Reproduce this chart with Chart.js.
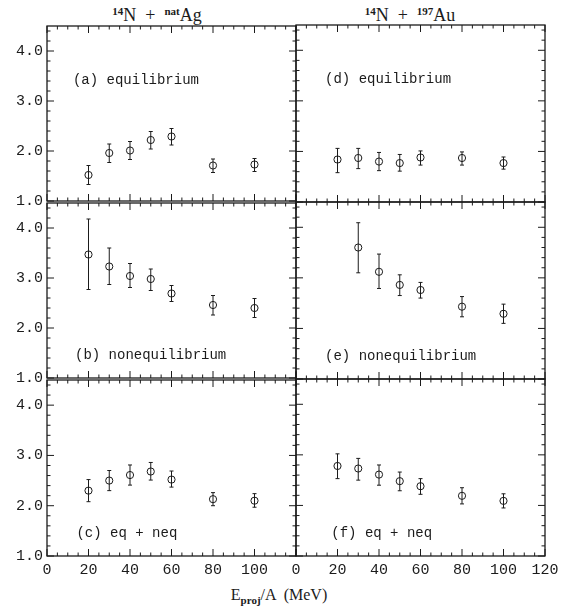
<!DOCTYPE html>
<html>
<head>
<meta charset="utf-8">
<script src="https://cdn.jsdelivr.net/npm/chart.js@4.4.0/dist/chart.umd.min.js"></script>
<style>
  body { margin: 0; background: #fff; }
  #wrap { position: relative; width: 579px; height: 609px; overflow: hidden; background: #fff; }
  canvas { position: absolute; }
  .ttl { position: absolute; transform: translateX(-50%); white-space: nowrap; color: #1b1b1b;
         font-family: "Liberation Serif", "DejaVu Serif", serif; line-height: 22px; }
  .up { position: relative; top: -0.55em; font-size: 11px; font-weight: bold; }
  .dn { position: relative; top: 0.35em; font-size: 11px; font-weight: bold; }
</style>
</head>
<body>
<div id="wrap">
  <div class="ttl" style="left:157px; top:4px; font-size:18px;"><span class="up">14</span>N &nbsp;+ &nbsp;<span class="up">nat</span>Ag</div>
  <div class="ttl" style="left:410px; top:4px; font-size:18px;"><span class="up">14</span>N &nbsp;+ &nbsp;<span class="up">197</span>Au</div>
  <div class="ttl" style="left:279px; top:584px; font-size:16px;">E<span class="dn">proj</span>/A &nbsp;(MeV)</div>
</div>
<script>
// beam energies (MeV per nucleon)
const energies = [20, 30, 40, 50, 60, 80, 100];
const energiesE = [30, 40, 50, 60, 80, 100];

// 14N + natAg
const agEq = [1.52, 1.96, 2.01, 2.22, 2.29, 1.71, 1.73];
const agEqLo = [1.33, 1.77, 1.83, 2.04, 2.12, 1.57, 1.59];
const agEqHi = [1.71, 2.14, 2.19, 2.39, 2.45, 1.84, 1.85];
const agNeq = [3.47, 3.23, 3.04, 2.98, 2.69, 2.46, 2.40];
const agNeqLo = [2.77, 2.87, 2.81, 2.75, 2.53, 2.26, 2.21];
const agNeqHi = [4.18, 3.60, 3.29, 3.18, 2.85, 2.65, 2.59];
const agSum = [2.30, 2.50, 2.61, 2.68, 2.52, 2.13, 2.10];
const agSumLo = [2.08, 2.30, 2.41, 2.51, 2.37, 2.00, 1.97];
const agSumHi = [2.52, 2.70, 2.81, 2.86, 2.69, 2.26, 2.24];

// 14N + 197Au
const auEq = [1.84, 1.87, 1.80, 1.77, 1.88, 1.87, 1.77];
const auEqLo = [1.58, 1.66, 1.62, 1.61, 1.73, 1.73, 1.65];
const auEqHi = [2.06, 2.06, 1.98, 1.94, 2.01, 1.99, 1.89];
const auNeq = [3.60, 3.12, 2.86, 2.76, 2.43, 2.29];
const auNeqLo = [3.10, 2.79, 2.65, 2.60, 2.23, 2.10];
const auNeqHi = [4.09, 3.47, 3.06, 2.91, 2.63, 2.48];
const auSum = [2.78, 2.73, 2.61, 2.48, 2.38, 2.19, 2.09];
const auSumLo = [2.53, 2.50, 2.40, 2.29, 2.22, 2.03, 1.95];
const auSumHi = [3.02, 2.93, 2.80, 2.66, 2.53, 2.35, 2.23];

// axes
const xTicksLeft = [0, 20, 40, 60, 80, 100];
const xTicksRight = [0, 20, 40, 60, 80, 100, 120];
const yTicks = [1, 2, 3, 4];
const xMin = 0, xMax = 120, yMin = 1, yMax = 4.5;
const xMinorStep = 5, xMajorStep = 20, yMinorStep = 0.2;

const ink = '#1b1b1b';
const mono = '"Liberation Mono", "DejaVu Sans Mono", monospace';

const panels = [
  { col: 0, row: 0, x: energies, y: agEq, lo: agEqLo, hi: agEqHi, text: '(a) equilibrium', lx: 12.5, ly: 3.42 },
  { col: 0, row: 1, x: energies, y: agNeq, lo: agNeqLo, hi: agNeqHi, text: '(b) nonequilibrium', lx: 13.5, ly: 1.46 },
  { col: 0, row: 2, x: energies, y: agSum, lo: agSumLo, hi: agSumHi, text: '(c) eq + neq', lx: 14.2, ly: 1.46 },
  { col: 1, row: 0, x: energies, y: auEq, lo: auEqLo, hi: auEqHi, text: '(d) equilibrium', lx: 14, ly: 3.42 },
  { col: 1, row: 1, x: energiesE, y: auNeq, lo: auNeqLo, hi: auNeqHi, text: '(e) nonequilibrium', lx: 14, ly: 1.44 },
  { col: 1, row: 2, x: energies, y: auSum, lo: auSumLo, hi: auSumHi, text: '(f) eq + neq', lx: 17, ly: 1.44 }
];

// frame, inward ticks, error bars and panel label
const panelDeco = {
  id: 'panelDeco',
  afterDatasetsDraw(chart, args, o) {
    const { ctx, chartArea: a } = chart;
    const xs = chart.scales.x, ys = chart.scales.y;
    ctx.save();
    ctx.strokeStyle = ink;
    ctx.lineWidth = 1;

    ctx.beginPath();
    chart.data.datasets[0].data.forEach(p => {
      const px = xs.getPixelForValue(p.x);
      const t = ys.getPixelForValue(p.hi), b = ys.getPixelForValue(p.lo);
      ctx.moveTo(px, t); ctx.lineTo(px, b);
      ctx.moveTo(px - 2, t); ctx.lineTo(px + 2, t);
      ctx.moveTo(px - 2, b); ctx.lineTo(px + 2, b);
    });
    ctx.stroke();

    ctx.beginPath();
    for (let i = 0; xMin + i * xMinorStep <= xMax; i++) {
      const v = xMin + i * xMinorStep;
      const px = xs.getPixelForValue(v);
      const len = v % xMajorStep === 0 ? 7 : 3.5;
      ctx.moveTo(px, a.bottom); ctx.lineTo(px, a.bottom - len);
      ctx.moveTo(px, a.top); ctx.lineTo(px, a.top + len);
    }
    for (let i = 0; yMin + i * yMinorStep <= yMax + 1e-9; i++) {
      const v = yMin + i * yMinorStep;
      const py = ys.getPixelForValue(v);
      const len = Math.abs(v - Math.round(v)) < 1e-6 ? 7 : 3.5;
      ctx.moveTo(a.left, py); ctx.lineTo(a.left + len, py);
      ctx.moveTo(a.right, py); ctx.lineTo(a.right - len, py);
    }
    ctx.stroke();

    ctx.lineWidth = 1.3;
    ctx.strokeRect(a.left, a.top, a.right - a.left, a.bottom - a.top);

    ctx.fillStyle = ink;
    ctx.font = '14px ' + mono;
    ctx.textAlign = 'left';
    ctx.textBaseline = 'middle';
    ctx.fillText(o.text, xs.getPixelForValue(o.x), ys.getPixelForValue(o.y));
    ctx.restore();
  }
};

const wrap = document.getElementById('wrap');
const rowTop = [25, 202, 379];

panels.forEach(p => {
  const left = p.col === 0;
  const bottom = p.row === 2;
  const cv = document.createElement('canvas');
  const w = left ? 306 : 284;
  const h = bottom ? 219 : 201;
  cv.width = w; cv.height = h;
  cv.style.left = (left ? 0 : 286) + 'px';
  cv.style.top = (rowTop[p.row] - 12) + 'px';
  cv.style.width = w + 'px'; cv.style.height = h + 'px';
  wrap.appendChild(cv);

  new Chart(cv, {
    type: 'scatter',
    data: {
      datasets: [{
        data: p.x.map((e, i) => ({ x: e, y: p.y[i], lo: p.lo[i], hi: p.hi[i] })),
        pointStyle: 'circle',
        pointRadius: 3.6,
        pointBorderWidth: 1,
        pointBorderColor: ink,
        pointBackgroundColor: 'rgba(0,0,0,0)'
      }]
    },
    options: {
      responsive: false,
      animation: false,
      layout: { padding: { left: left ? 0 : 10, right: left ? 10 : 25, top: 12, bottom: bottom ? 0 : 12 } },
      plugins: {
        legend: { display: false },
        tooltip: { enabled: false },
        panelDeco: { text: p.text, x: p.lx, y: p.ly }
      },
      scales: {
        x: {
          type: 'linear', min: xMin, max: xMax,
          display: bottom,
          afterBuildTicks: s => { s.ticks = (left ? xTicksLeft : xTicksRight).map(v => ({ value: v })); },
          afterFit: s => { s.height = bottom ? 30 : 0; },
          grid: { display: false, drawTicks: false },
          border: { display: false },
          ticks: { color: ink, padding: 5, maxRotation: 0, font: { family: mono, size: 15 } }
        },
        y: {
          type: 'linear', min: yMin, max: yMax,
          display: left,
          afterBuildTicks: s => { s.ticks = yTicks.map(v => ({ value: v })); },
          afterFit: s => { s.width = left ? 47 : 0; },
          grid: { display: false, drawTicks: false },
          border: { display: false },
          ticks: { color: ink, padding: 4, font: { family: mono, size: 15 }, callback: v => v.toFixed(1) }
        }
      }
    },
    plugins: [panelDeco]
  });
});
</script>
</body>
</html>
